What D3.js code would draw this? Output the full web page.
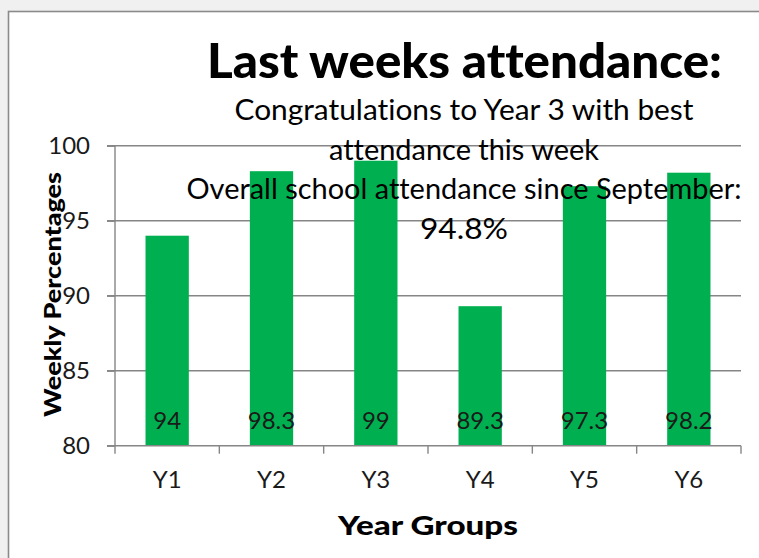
<!DOCTYPE html>
<html><head><meta charset="utf-8">
<script src="https://cdn.jsdelivr.net/npm/d3@7"></script>
<style>
html,body{margin:0;padding:0;background:#f0f0f0;}
svg{display:block;}
text{font-variant-ligatures:none;font-feature-settings:"liga" 0;}
</style></head>
<body>
<script>
const categories = ["Y1","Y2","Y3","Y4","Y5","Y6"];
const values = [94, 98.3, 99, 89.3, 97.3, 98.2];
const yTicks = [80, 85, 90, 95, 100];
const titleText = "Last weeks attendance:";
const subtitleLines = ["Congratulations to Year 3 with best","attendance this week","Overall school attendance since September:","94.8%"];
const xTitle = "Year Groups";
const yTitle = "Weekly Percentages";

(function(){
const W = 759, H = 558;
const svg = d3.select("body").append("svg").attr("width", W).attr("height", H);

// chart box
svg.append("rect").attr("x", 8.5).attr("y", 11.5).attr("width", 800).attr("height", 600)
  .attr("fill", "#ffffff").attr("stroke", "#8a8a8a").attr("stroke-width", 1.6);

const pLeft = 115, pRight = 741, pTop = 145.7, pBottom = 445.7;
const x = d3.scaleBand().domain(categories).range([pLeft, pRight]).padding(0);
const y = d3.scaleLinear().domain([80, 100]).range([pBottom, pTop]);

const gridColor = "#868686";
const tickFont = "'Century Gothic','Lato','Open Sans',sans-serif";
const tickSize = 24;

// gridlines
svg.append("g").selectAll("line").data(yTicks.filter(d => d > 80)).join("line")
  .attr("x1", pLeft - 8).attr("x2", pRight)
  .attr("y1", d => y(d)).attr("y2", d => y(d))
  .attr("stroke", gridColor).attr("stroke-width", 1.4);

// bars
const barW = x.bandwidth() * 0.415;
svg.append("g").selectAll("rect").data(values).join("rect")
  .attr("x", (d, i) => x(categories[i]) + (x.bandwidth() - barW) / 2)
  .attr("width", barW)
  .attr("y", d => y(d))
  .attr("height", d => y(80) - y(d))
  .attr("fill", "#00b050");

// y axis
const yAxis = d3.axisLeft(y).tickValues(yTicks).tickSize(8).tickPadding(17);
const gy = svg.append("g").attr("transform", `translate(${pLeft},0)`).call(yAxis);
gy.select(".domain").attr("stroke", gridColor).attr("stroke-width", 1.4).attr("d", `M-8,${pTop}H0V${pBottom}`);
gy.selectAll(".tick line").attr("stroke", gridColor).attr("stroke-width", 1.4);
gy.selectAll(".tick text").attr("font-family", tickFont).attr("font-size", tickSize).attr("fill", "#1a1a1a");

// x axis
const xAxis = d3.axisBottom(x).tickSize(0).tickPadding(25);
const gx = svg.append("g").attr("transform", `translate(0,${pBottom})`).call(xAxis);
gx.select(".domain").attr("stroke", gridColor).attr("stroke-width", 1.4).attr("d", `M${pLeft - 8},0H${pRight}`);
gx.selectAll(".tick text").attr("font-family", tickFont).attr("font-size", tickSize).attr("fill", "#1a1a1a");
const bounds = categories.map(c => x(c)).concat([pRight]);
gx.append("g").selectAll("line").data(bounds).join("line")
  .attr("x1", d => d).attr("x2", d => d).attr("y1", 0).attr("y2", 8)
  .attr("stroke", gridColor).attr("stroke-width", 1.4);

// data labels
svg.append("g").selectAll("text").data(values).join("text")
  .attr("x", (d, i) => x(categories[i]) + x.bandwidth() / 2)
  .attr("y", y(80) - 17)
  .attr("text-anchor", "middle")
  .attr("font-family", tickFont).attr("font-size", tickSize).attr("fill", "#1a1a1a")
  .text(d => d);

// axis titles
svg.append("text").attr("x", 428).attr("y", 535).attr("text-anchor", "middle")
  .attr("font-family", "'Lato','Open Sans',sans-serif").attr("font-weight", "900")
  .attr("font-size", 27).attr("fill", "#000")
  .attr("textLength", 180).attr("lengthAdjust", "spacingAndGlyphs").text(xTitle);
svg.append("text").attr("transform", "translate(61,294.5) rotate(-90)").attr("text-anchor", "middle")
  .attr("font-family", "'Lato','Open Sans',sans-serif").attr("font-weight", "900")
  .attr("font-size", 23).attr("fill", "#000")
  .attr("textLength", 245).attr("lengthAdjust", "spacingAndGlyphs").text(yTitle);

// title
svg.append("text").attr("x", 464.5).attr("y", 78).attr("text-anchor", "middle")
  .attr("font-family", "'Lato','Open Sans',sans-serif").attr("font-weight", "900")
  .attr("font-size", 47).attr("fill", "#000")
  .attr("textLength", 515).attr("lengthAdjust", "spacingAndGlyphs")
  .text(titleText);

// subtitle lines
const subW = [459, 270, 555, 88];
svg.append("g").selectAll("text").data(subtitleLines).join("text")
  .attr("x", 464).attr("y", (d, i) => 120 + i * 39.5).attr("text-anchor", "middle")
  .attr("font-family", "'Lato','Open Sans',sans-serif")
  .attr("font-size", 28).attr("fill", "#000")
  .attr("textLength", (d, i) => subW[i]).attr("lengthAdjust", "spacingAndGlyphs")
  .text(d => d);
})();
</script>
</body></html>
